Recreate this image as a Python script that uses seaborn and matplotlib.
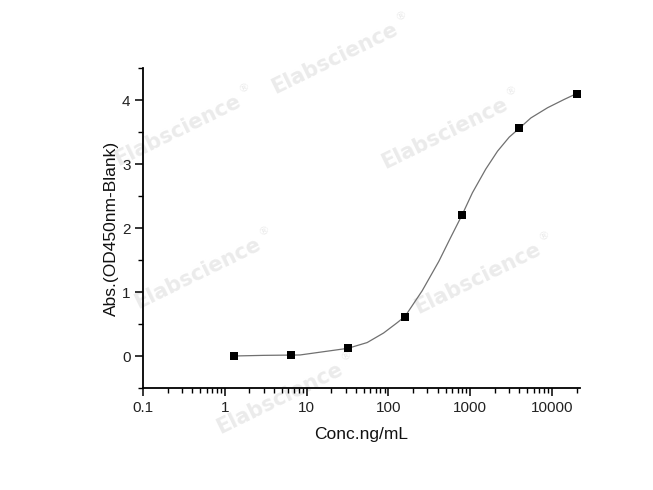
import matplotlib
matplotlib.use("Agg")
import matplotlib.pyplot as plt
import matplotlib.ticker as mticker
import seaborn as sns
import pandas as pd

# measured standards
conc = [1.28, 6.4, 32, 160, 800, 4000, 20000]
absorb = [0.00, 0.02, 0.12, 0.61, 2.21, 3.57, 4.10]

# fitted curve
curve_x = [1.28, 3, 8.3, 32, 55, 87.5, 128, 160, 259, 414, 576, 800, 1064, 1549,
           2158, 3000, 4000, 5525, 8850, 14150, 20000]
curve_y = [0.00, 0.01, 0.016, 0.12, 0.21, 0.36, 0.52, 0.62, 1.02, 1.48, 1.85, 2.21,
           2.55, 2.92, 3.20, 3.42, 3.56, 3.72, 3.88, 4.01, 4.10]

x_ticks = [0.1, 1, 10, 100, 1000, 10000]
x_ticklabels = ["0.1", "1", "10", "100", "1000", "10000"]
y_ticks = [0, 1, 2, 3, 4]

wm_text = "Elabscience"
wm_mark = "\u00ae"
wm_pos = [(335, 58), (178, 130), (445, 133), (198, 273), (478, 278), (280, 398)]

sns.set_style("white")
plt.rcParams['font.family'] = ['Liberation Sans', 'DejaVu Sans']

fig = plt.figure(figsize=(6.53, 4.90), dpi=100)
ax = fig.add_axes([143 / 653, 1 - 388 / 490, (580 - 143) / 653, (388 - 68) / 490])
ax.set_zorder(2)
ax.patch.set_alpha(0)

df_pts = pd.DataFrame({"x": conc, "y": absorb})
df_curve = pd.DataFrame({"x": curve_x, "y": curve_y})

sns.lineplot(data=df_curve, x="x", y="y", ax=ax, color="#707070", linewidth=0.9,
             sort=False, estimator=None)
sns.scatterplot(data=df_pts, x="x", y="y", ax=ax, marker="s", s=30, color="black",
                edgecolor="black", linewidth=0, zorder=5)

ax.set_xscale("log")
ax.set_xlim(0.1, 22000)
ax.set_ylim(-0.5, 4.5)
ax.set_xticks(x_ticks)
ax.set_xticklabels(x_ticklabels)
ax.xaxis.set_minor_locator(mticker.LogLocator(base=10, subs=range(2, 10), numticks=20))
ax.xaxis.set_minor_formatter(mticker.NullFormatter())
ax.set_yticks(y_ticks)
ax.yaxis.set_minor_locator(mticker.MultipleLocator(0.5))

for s in ["top", "right"]:
    ax.spines[s].set_visible(False)
for s in ["left", "bottom"]:
    ax.spines[s].set_color("black")
    ax.spines[s].set_linewidth(1.3)

ax.tick_params(axis="both", which="major", direction="out", length=6, width=1.1,
               color="black", labelsize=11, labelcolor="#222222", pad=3)
ax.tick_params(axis="both", which="minor", direction="out", length=3.5, width=1.0,
               color="black")
ax.tick_params(axis="x", which="both", bottom=True, top=False)
ax.tick_params(axis="y", which="both", left=True, right=False)

ax.set_xlabel("Conc.ng/mL", fontsize=12.5, color="#111111", labelpad=9)
ax.set_ylabel("Abs.(OD450nm-Blank)", fontsize=12.5, color="#111111", labelpad=2)

for (px, py) in wm_pos:
    fig.text(px / 653, 1 - py / 490, wm_text, fontsize=15, fontweight="bold",
             color="#ebebeb", rotation=26, ha="center", va="center",
             rotation_mode="anchor", zorder=0, family=["DejaVu Sans"])
    fig.text((px + 66) / 653, 1 - (py - 42) / 490, wm_mark, fontsize=8,
             color="#ebebeb", rotation=26, ha="center", va="center",
             rotation_mode="anchor", zorder=0, family=["DejaVu Sans"])

fig.savefig("out.png", dpi=100)
